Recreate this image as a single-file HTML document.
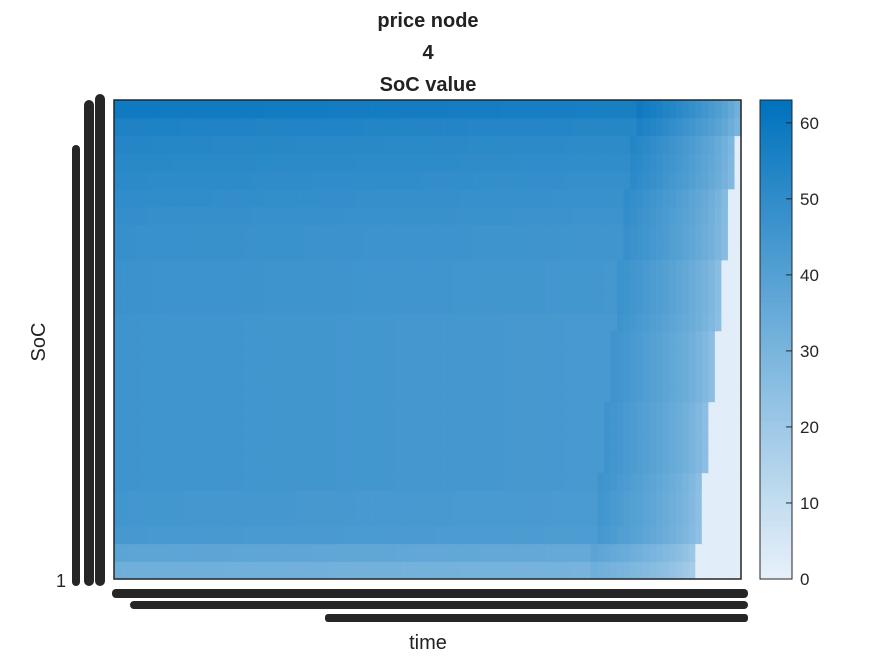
<!DOCTYPE html>
<html><head><meta charset="utf-8"><style>
body{margin:0;background:#fff;width:875px;height:656px;overflow:hidden;font-family:"Liberation Sans",sans-serif}
svg text{font-family:"Liberation Sans",sans-serif}
</style></head><body>
<svg id="c" width="875" height="656">
<text x="428" y="27" text-anchor="middle" font-size="20" font-weight="bold" fill="#222">price node</text>
<text x="428" y="59" text-anchor="middle" font-size="20" font-weight="bold" fill="#222">4</text>
<text x="428" y="91" text-anchor="middle" font-size="20" font-weight="bold" fill="#222">SoC value</text>
<text x="428" y="649" text-anchor="middle" font-size="20" fill="#222">time</text>
<text transform="translate(45,342) rotate(-90)" text-anchor="middle" font-size="20" fill="#222">SoC</text>
<g id="cells"></g>
<rect x="114" y="100" width="627" height="479" fill="none" stroke="#262626" stroke-width="1.5"/>
<g fill="#262626">
<rect x="72" y="145" width="8" height="441" rx="4"/>
<rect x="84" y="100" width="10" height="486" rx="5"/>
<rect x="95" y="94" width="10" height="492" rx="5"/>
<text x="66" y="587" text-anchor="end" font-size="18" fill="#262626">1</text>
</g>
<g fill="#262626">
<rect x="112" y="589" width="636" height="9" rx="4"/>
<rect x="130" y="601" width="618" height="8" rx="4"/>
<rect x="325" y="614" width="423" height="8" rx="3"/>
</g>
<g id="cbar"></g>
</svg>
<script>
const rowValues=[33,38,44,45,45,46,46,46,46,46,46,46,46,46,46,47,47,47,48,48,49,50,51,52,53,55,59];
const rowCutoff=[89,89,90,90,90,90,91,91,91,91,92,92,92,92,93,93,93,93,94,94,94,94,95,95,95,96,96];
const nCols=96, fade=16, cmax=63;
const cbTicks=[0,10,20,30,40,50,60];
const X0=114,Y0=100,W=627,H=479;
function col(v){const t=Math.max(0,Math.min(1,v/cmax));
 const a=[232,241,250],b=[0,114,189];
 return `rgb(${a.map((x,i)=>Math.round(x+(b[i]-x)*t)).join(',')})`;}
const ns='http://www.w3.org/2000/svg';
const g=document.getElementById('cells');
const nR=rowValues.length,cw=W/nCols,rh=H/nR;
for(let r=0;r<nR;r++){for(let c=0;c<nCols;c++){
 let v=rowValues[r];const cut=rowCutoff[r];
 if(c>=cut)v=2;else if(c>=cut-fade){const f=(cut-c)/fade;v=v*(0.4+0.6*Math.sqrt(f));} else {v=v-(c/nCols)*3;}
 const e=document.createElementNS(ns,'rect');
 e.setAttribute('x',X0+c*cw);e.setAttribute('y',Y0+H-(r+1)*rh);
 e.setAttribute('width',cw+0.6);e.setAttribute('height',rh+0.6);e.setAttribute('fill',col(v));
 
 
 g.appendChild(e);}}
const cb=document.getElementById('cbar');
for(let i=0;i<100;i++){const e=document.createElementNS(ns,'rect');
 e.setAttribute('x',760);e.setAttribute('y',579-(i+1)*H/100);e.setAttribute('width',32);e.setAttribute('height',H/100+0.6);
 e.setAttribute('fill',col(i*cmax/100+cmax/200));
 
 
 cb.appendChild(e);}
const bd=document.createElementNS(ns,'rect');
bd.setAttribute('x',760);bd.setAttribute('y',100);bd.setAttribute('width',32);bd.setAttribute('height',479);bd.setAttribute('fill','none');bd.setAttribute('stroke','#262626');


cb.appendChild(bd);
cbTicks.forEach(t=>{const y=579-t/cmax*H;
 const l=document.createElementNS(ns,'line');l.setAttribute('x1',786);l.setAttribute('x2',792);l.setAttribute('y1',y);l.setAttribute('y2',y);l.setAttribute('stroke','#262626');
 
 
 cb.appendChild(l);
 const tx=document.createElementNS(ns,'text');tx.setAttribute('x',800);tx.setAttribute('y',y+6);tx.setAttribute('font-size','17');tx.setAttribute('fill','#262626');tx.textContent=t;
 
 
 cb.appendChild(tx);});
</script>
</body></html>
